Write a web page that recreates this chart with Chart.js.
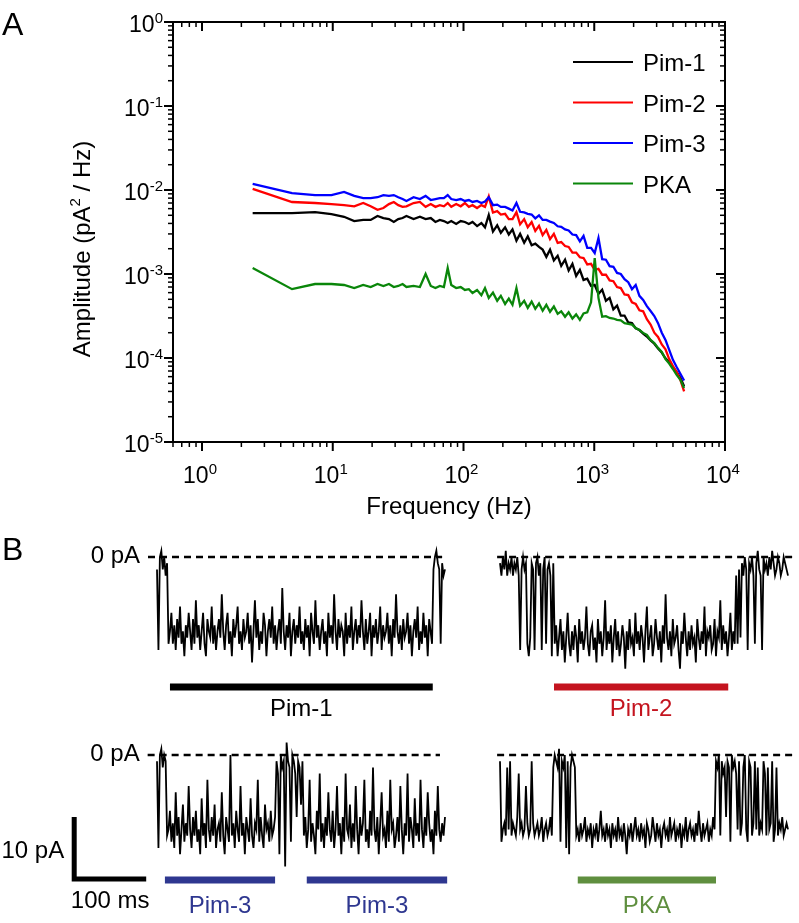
<!DOCTYPE html>
<html>
<head>
<meta charset="utf-8">
<script src="https://cdn.jsdelivr.net/npm/chart.js@4.4.0/dist/chart.umd.min.js"></script>
<style>
  body { margin: 0; background: #fff; }
  #fig { position: relative; width: 799px; height: 923px; }
  canvas { position: absolute; }
</style>
</head>
<body>
<div id="fig">
  <canvas id="spectra" width="799" height="530" style="left:0;top:0"></canvas>
  <canvas id="tr1" width="455" height="200" style="left:0;top:530px"></canvas>
  <canvas id="tr2" width="344" height="200" style="left:455px;top:530px"></canvas>
  <canvas id="tr3" width="455" height="193" style="left:0;top:730px"></canvas>
  <canvas id="tr4" width="344" height="193" style="left:455px;top:730px"></canvas>
</div>
<script>
const FONT = '"Liberation Sans", Arial, sans-serif';

// ---- panel A: power spectra (Hz, pA^2/Hz) ----
const freqHz = [2.44, 4.88, 7.32, 9.77, 12.2, 14.6, 17.1, 19.5, 22.0, 24.4,
  26.9, 29.3, 31.7, 34.2, 36.6, 41.5, 46.4, 51.3, 56.2, 61.0,
  65.9, 70.8, 75.7, 80.6, 87.9, 95.2, 102.5, 109.9, 117.2, 127,
  137, 146, 156, 168, 181, 193, 208, 222, 237, 254,
  271, 291, 310, 332, 354, 378, 403, 430, 459, 491,
  525, 559, 598, 637, 681, 727, 776, 828, 884, 945,
  1008, 1077, 1150, 1228, 1311, 1400, 1494, 1596, 1704, 1820,
  1943, 2075, 2215, 2366, 2526, 2697, 2880, 3075, 3284, 3506,
  3743, 3997, 4268, 4557, 4866];

const pim1Amp = [5.3e-3, 5.3e-3, 5.45e-3, 5.15e-3, 4.8e-3, 4.27e-3, 4.4e-3, 4.4e-3, 4.9e-3, 4.64e-3,
  4.5e-3, 4.16e-3, 4.5e-3, 4.64e-3, 4.9e-3, 4.5e-3, 4.8e-3, 4.5e-3, 4.64e-3, 4.16e-3,
  4.4e-3, 4.27e-3, 4.05e-3, 4.27e-3, 3.94e-3, 4.27e-3, 4.16e-3, 3.94e-3, 4.16e-3, 3.72e-3,
  4.05e-3, 3.6e-3, 5.04e-3, 3.2e-3, 3.8e-3, 3.1e-3, 3.6e-3, 2.95e-3, 3.4e-3, 2.5e-3,
  3.0e-3, 2.35e-3, 2.8e-3, 2.2e-3, 2.3e-3, 2.1e-3, 1.95e-3, 1.6e-3, 1.95e-3, 1.45e-3,
  1.65e-3, 1.25e-3, 1.48e-3, 1.1e-3, 1.32e-3, 9.5e-4, 1.12e-3, 8.5e-4, 8.8e-4, 7.2e-4,
  7.4e-4, 5.8e-4, 6.5e-4, 4.8e-4, 5.2e-4, 3.8e-4, 4.2e-4, 3.2e-4, 3.2e-4, 2.65e-4,
  2.6e-4, 2.25e-4, 2.15e-4, 1.95e-4, 1.8e-4, 1.62e-4, 1.48e-4, 1.3e-4, 1.16e-4, 9.9e-5,
  8.9e-5, 7.8e-5, 6.8e-5, 5.8e-5, 4.6e-5];

const pim2Amp = [1.03e-2, 7.2e-3, 7.0e-3, 6.8e-3, 6.6e-3, 6.4e-3, 7.0e-3, 6.4e-3, 5.8e-3, 6.1e-3,
  6.8e-3, 7.2e-3, 6.6e-3, 6.3e-3, 6.4e-3, 7.0e-3, 7.2e-3, 6.3e-3, 6.8e-3, 6.3e-3,
  6.6e-3, 6.4e-3, 7.0e-3, 6.3e-3, 6.8e-3, 6.4e-3, 7.0e-3, 6.3e-3, 6.6e-3, 6.1e-3,
  6.6e-3, 6.3e-3, 8.4e-3, 5.4e-3, 5.6e-3, 5.1e-3, 5.2e-3, 4.5e-3, 4.5e-3, 5.45e-3,
  3.9e-3, 4.5e-3, 3.6e-3, 4.15e-3, 3.25e-3, 3.75e-3, 2.9e-3, 3.35e-3, 2.6e-3, 3.0e-3,
  2.35e-3, 2.4e-3, 2.15e-3, 2.1e-3, 1.8e-3, 1.8e-3, 1.58e-3, 1.55e-3, 1.3e-3, 1.32e-3,
  1.12e-3, 1.15e-3, 9.8e-4, 9.8e-4, 8.4e-4, 8.2e-4, 7.0e-4, 6.8e-4, 5.7e-4, 5.6e-4,
  4.6e-4, 4.4e-4, 3.7e-4, 3.6e-4, 2.9e-4, 2.5e-4, 2.0e-4, 1.78e-4, 1.45e-4, 1.27e-4,
  9.7e-5, 8.0e-5, 6.8e-5, 5.5e-5, 4.0e-5];

const pim3Amp = [1.18e-2, 9.2e-3, 8.7e-3, 8.7e-3, 9.5e-3, 8.5e-3, 8.0e-3, 8.0e-3, 8.2e-3, 8.7e-3,
  8.5e-3, 8.7e-3, 8.2e-3, 7.8e-3, 7.4e-3, 8.2e-3, 7.8e-3, 8.5e-3, 7.6e-3, 7.8e-3,
  8.0e-3, 8.0e-3, 8.7e-3, 7.8e-3, 7.6e-3, 7.8e-3, 7.4e-3, 7.6e-3, 7.2e-3, 7.4e-3,
  7.0e-3, 7.3e-3, 8.2e-3, 6.6e-3, 6.7e-3, 6.3e-3, 6.3e-3, 6.0e-3, 5.7e-3, 7.0e-3,
  5.5e-3, 5.4e-3, 5.2e-3, 5.1e-3, 4.6e-3, 5.0e-3, 4.4e-3, 4.4e-3, 4.2e-3, 4.05e-3,
  3.7e-3, 3.65e-3, 3.4e-3, 3.3e-3, 2.95e-3, 2.9e-3, 2.45e-3, 2.85e-3, 2.05e-3, 2.05e-3,
  1.78e-3, 2.68e-3, 1.5e-3, 1.48e-3, 1.24e-3, 1.22e-3, 1.03e-3, 1.0e-3, 8.7e-4, 8.0e-4,
  6.6e-4, 7.4e-4, 5.5e-4, 4.9e-4, 4.15e-4, 3.63e-4, 3.16e-4, 2.6e-4, 2.0e-4, 1.64e-4,
  1.25e-4, 9.5e-5, 7.8e-5, 6.5e-5, 5.4e-5];

const pkaAmp = [1.18e-3, 6.6e-4, 7.6e-4, 7.6e-4, 7.4e-4, 6.8e-4, 7.4e-4, 7.0e-4, 7.6e-4, 7.2e-4,
  7.6e-4, 7.0e-4, 7.2e-4, 7.6e-4, 7.0e-4, 7.2e-4, 7.0e-4, 1.0e-3, 7.2e-4, 6.8e-4,
  7.2e-4, 7.0e-4, 1.18e-3, 7.4e-4, 6.8e-4, 7.0e-4, 6.45e-4, 6.6e-4, 5.94e-4, 6.45e-4,
  5.6e-4, 6.8e-4, 5.2e-4, 6.0e-4, 4.8e-4, 5.5e-4, 4.4e-4, 5.1e-4, 4.3e-4, 6.8e-4,
  4.2e-4, 4.8e-4, 3.95e-4, 4.7e-4, 3.85e-4, 4.45e-4, 3.65e-4, 4.3e-4, 3.55e-4, 4.1e-4,
  3.35e-4, 3.6e-4, 3.1e-4, 3.5e-4, 2.95e-4, 3.3e-4, 2.85e-4, 3.4e-4, 3.5e-4, 4.6e-4,
  1.55e-3, 5.2e-4, 3.1e-4, 3.15e-4, 3.0e-4, 2.95e-4, 2.85e-4, 2.8e-4, 2.6e-4, 2.55e-4,
  2.5e-4, 2.28e-4, 2.16e-4, 1.99e-4, 1.88e-4, 1.64e-4, 1.51e-4, 1.32e-4, 1.18e-4, 9.7e-5,
  8.6e-5, 7.4e-5, 6.3e-5, 5.5e-5, 4.4e-5];

const seriesNames = ['Pim-1', 'Pim-2', 'Pim-3', 'PKA'];
const xDecades = [0, 1, 2, 3, 4];
const yDecades = [-5, -4, -3, -2, -1, 0];

// ---- panel B: current traces, pA, one sample every 2 ms ----
const SAMPLE_MS = 2;
const pim1Trace = [-2, -15, 0, 1, -2, 0, -3, -1, -14,
  -12, -9, -14, -11, -15, -10, -13, -8, -14, -12,
  -16, -11, -13, -9, -12, -15, -10, -14, -7, -13,
  -11, -15, -12, -9, -14, -16, -10, -12, -13, -8,
  -14, -11, -15, -12, -10, -13, -6, -12, -15, -11,
  -9, -14, -12, -16, -10, -13, -11, -8, -14, -12,
  -15, -10, -13, -12, -9, -14, -11, -17, -12, -7,
  -13, -10, -15, -12, -14, -9, -11, -16, -12, -10,
  -13, -8, -14, -11, -15, -12, -10, -14, -5, -12,
  -15, -11, -13, -9, -16, -12, -10, -14, -11, -13,
  -8, -14, -12, -15, -10, -13, -11, -16, -9, -12,
  -14, -7, -13, -11, -15, -12, -10, -14, -12, -16,
  -9, -13, -11, -14, -6, -12, -15, -10, -13, -11,
  -12, -16, -9, -14, -11, -13, -8, -15, -12, -10,
  -14, -11, -13, -7, -12, -15, -10, -14, -12, -9,
  -16, -11, -13, -10, -14, -12, -8, -15, -11, -13,
  -12, -9, -14, -11, -16, -10, -13, -6, -12, -14,
  -11, -15, -10, -13, -12, -9, -14, -11, -16, -12,
  -10, -13, -8, -15, -12, -14, -9, -13, -11, -16, -10, -12, -14,
  -2, 0, 1, -1, -2, -14, -1, -3, -2];
const pim2Trace = [-1, -3, 0, -2, 1, -3, -1, -2, 0, -3,
  -1, -2, 0, -3, -15, -2, 0, -2, -1, -14,
  -16, -13, -1, -2, -15, -1, 0, -3, -1, -15,
  -2, 0, -14, -2, -1, -3, -16, -1,
  -14, -11, -16, -13, -10, -15, -12, -17, -13, -9,
  -14, -16, -12, -15, -11, -13, -17, -10, -14, -12,
  -15, -13, -8, -14, -16, -12, -11, -15, -13, -17,
  -10, -14, -12, -16, -13, -7, -15, -12, -14, -11,
  -17, -13, -10, -15, -12, -16, -14, -11, -13, -18,
  -12, -15, -10, -14, -13, -16, -9, -14, -12, -15,
  -11, -13, -17, -12, -8, -15, -13, -11, -16, -14,
  -10, -13, -15, -12, -17, -11, -14, -6, -13, -15,
  -12, -16, -10, -14, -13, -11, -15, -18, -12, -14,
  -9, -13, -16, -12, -15, -11, -14, -13, -17, -10,
  -13, -15, -12, -14, -8, -16, -12, -13, -11, -15,
  -14, -10, -16, -12, -13, -7, -15, -11, -14, -12,
  -16, -13, -9, -15, -12, -14,
  -3, -14, -2, -13, -1, -3, 0, -2, -15, -1,
  -2, 0, -3, -14, -1, 1, -2, -3, -15, 0,
  -2, -1, -3, 0, -2, 1, -1, -3, -2, 0,
  -1, -3, -2, 0, -1, -2, -3];
const pim3Trace = [-1, -15, 0, 1, -2, 0, -1, -13,
  -12, -9, -14, -11, -15, -6, -13, -10, -16, -12,
  -8, -14, -11, -13, -5, -12, -15, -10, -13, -9,
  -14, -12, -16, -7, -13, -11, -15, -4, -12, -14,
  -10, -13, -8, -15, -12, -11, -14, -6, -13, -16,
  -10, -12, -14, 0, -13, -11, -15, -9, -12, -14,
  -5, -13, -11, -16, -10, -12, -14, -7, -13, -15,
  -11, -12, -4, -14, -10, -13, -15, -8, -12, -11,
  -14, -9, -13, -12, -10,
  -1, -3, -16, 0, -2, -1, -18, 2, -1, -2, -14, 0, -1, -3, -10, -1, -2, -8, -1,
  -13, -10, -15, -12, -4, -14, -11, -13, -16, -9,
  -12, -3, -14, -11, -15, -10, -13, -6, -12, -14,
  -9, -15, -12, -5, -13, -11, -16, -10, -14, -3,
  -12, -13, -8, -15, -11, -14, -5, -12, -16, -10,
  -13, -11, -4, -14, -12, -15, -9, -13, -2, -12,
  -14, -10, -16, -11, -6, -13, -12, -15, -9, -14,
  -4, -12, -11, -15, -13, -10, -14, -5, -12, -16,
  -11, -13, -3, -14, -10, -12, -15, -7, -13, -11,
  -14, -4, -12, -15, -10, -13, -6, -11, -14, -12,
  -16, -9, -13, -5, -12, -14, -11, -13, -10];
const pkaTrace = [-1, -14, -12, -11, -13, -2, -12, -1, -13, -11,
  -12, -13, -10, -3, -12, -11, -13, -12, -5, -11,
  -13, -12, -1, -11, -13, -12,
  -11, -13, -12, -10, -14, -12, -11, -13, -12, -10, -13, -2,
  0, -1, -2, 1, -14, -1, -2, 0, -15, -1, -16, -2, 0, -1, -2, -13,
  -12, -14, -11, -13, -12, -10, -14, -12, -13, -11,
  -15, -12, -13, -11, -14, -12, -9, -13, -12, -14,
  -11, -13, -12, -15, -11, -13, -12, -14, -10, -13,
  -12, -14, -11, -13, -16, -12, -13, -11, -14, -12,
  -10, -13, -12, -14, -11, -13, -12, -15, -11, -12,
  -14, -13, -10, -12, -14, -11, -13, -12, -15, -12,
  -11, -13, -12, -14, -10, -13, -12, -11, -14, -12,
  -13, -11, -15, -12, -13, -10, -14, -12, -11, -13,
  -12, -14, -11, -13, -9, -12, -14, -11, -13, -12,
  -11, -14, -12, -13, -10, -12,
  -1, -2, 0, -13, -1, -3, -2, -10, -1, -2, -14, 0, -2, -1, -3,
  -12, -1, -13, -11, -2, 0, -12, -14, -1, -2,
  -13, -11, -1, -12, -2, -13, -11, -12, -1, -3,
  -13, -2, -12, -11, -1, -14, -12, -2, -13, -11,
  -12, -10, -13, -12, -11, -12];

// drug application periods, ms from trace start
const pim1Bars = [[18, 383]];
const pim2Bars = [[75, 317]];
const pim3Bars = [[11, 164], [208, 403]];
const pkaBars = [[108, 300]];

const colors = { 'Pim-1': '#000000', 'Pim-2': '#ff0000', 'Pim-3': '#0000ff', 'PKA': '#0a860a' };
const barColors = { 'Pim-1': '#000000', 'Pim-2': '#c4141f', 'Pim-3': '#2e3790', 'PKA': '#5f8f3f' };

function line(ctx, x1, y1, x2, y2) {
  ctx.beginPath();
  ctx.moveTo(x1, y1);
  ctx.lineTo(x2, y2);
  ctx.stroke();
}

function drawPow(ctx, exp, x, y, align) {
  ctx.font = '23px ' + FONT;
  const wb = ctx.measureText('10').width;
  ctx.font = '15px ' + FONT;
  const we = ctx.measureText(exp).width;
  const left = align === 'right' ? x - wb - we : x - (wb + we) / 2;
  ctx.textAlign = 'left';
  ctx.textBaseline = 'alphabetic';
  ctx.font = '23px ' + FONT;
  ctx.fillText('10', left, y);
  ctx.font = '15px ' + FONT;
  ctx.fillText(exp, left + wb, y - 9);
}

const spectraAxes = {
  id: 'spectraAxes',
  afterDraw(chart) {
    const { ctx, chartArea: a, scales: { x, y } } = chart;
    ctx.save();
    ctx.strokeStyle = '#000';
    ctx.fillStyle = '#000';
    ctx.lineWidth = 2;
    ctx.strokeRect(a.left, a.top, a.right - a.left, a.bottom - a.top);

    // x ticks: out at bottom, in at top
    for (let e = -1; e <= 4; e++) {
      for (let m = 1; m <= 9; m++) {
        const v = m * Math.pow(10, e);
        if (v < x.min * 0.999 || v > x.max * 1.001) continue;
        const px = x.getPixelForValue(v);
        const len = m === 1 ? 9 : 5;
        ctx.lineWidth = m === 1 ? 2 : 1.5;
        line(ctx, px, a.bottom, px, a.bottom + len);
        line(ctx, px, a.top, px, a.top + len);
      }
    }
    // y ticks: out at left, in at right
    for (let e = -5; e <= 0; e++) {
      for (let m = 1; m <= 9; m++) {
        const v = m * Math.pow(10, e);
        if (v < y.min * 0.999 || v > y.max * 1.001) continue;
        const py = y.getPixelForValue(v);
        const len = m === 1 ? 9 : 5;
        ctx.lineWidth = m === 1 ? 2 : 1.5;
        line(ctx, a.left - len, py, a.left, py);
        line(ctx, a.right - len, py, a.right, py);
      }
    }

    xDecades.forEach(e => drawPow(ctx, String(e), x.getPixelForValue(Math.pow(10, e)) - 2, a.bottom + 41, 'center'));
    yDecades.forEach(e => drawPow(ctx, String(e), a.left - 10, y.getPixelForValue(Math.pow(10, e)) + 10, 'right'));

    // axis titles
    ctx.font = '24px ' + FONT;
    ctx.textAlign = 'center';
    ctx.fillText('Frequency (Hz)', (a.left + a.right) / 2, 514);

    ctx.save();
    ctx.translate(90, 249);
    ctx.rotate(-Math.PI / 2);
    ctx.textAlign = 'left';
    const p1 = 'Amplitude (pA', p3 = ' / Hz)';
    ctx.font = '24px ' + FONT;
    const w1 = ctx.measureText(p1).width, w3 = ctx.measureText(p3).width;
    ctx.font = '15px ' + FONT;
    const w2 = ctx.measureText('2').width;
    const sx = -(w1 + w2 + w3) / 2;
    ctx.font = '24px ' + FONT;
    ctx.fillText(p1, sx, 0);
    ctx.fillText(p3, sx + w1 + w2, 0);
    ctx.font = '15px ' + FONT;
    ctx.fillText('2', sx + w1, -10);
    ctx.restore();

    // legend
    ctx.font = '24px ' + FONT;
    ctx.textAlign = 'left';
    seriesNames.forEach((name, i) => {
      const ly = 62 + i * 40.5;
      ctx.strokeStyle = colors[name];
      ctx.lineWidth = 2.2;
      line(ctx, 573, ly, 633, ly);
      ctx.fillStyle = '#000';
      ctx.fillText(name, 643, ly + 9);
    });

    ctx.font = '32px ' + FONT;
    ctx.fillText('A', 2, 35);
    ctx.restore();
  }
};

const ampSeries = [pim1Amp, pim2Amp, pim3Amp, pkaAmp];
const drawOrder = [3, 2, 1, 0];

new Chart(document.getElementById('spectra'), {
  type: 'line',
  data: {
    datasets: seriesNames.map((name, i) => ({
      label: name,
      data: freqHz.map((f, j) => ({ x: f, y: ampSeries[i][j] })),
      borderColor: colors[name],
      borderWidth: 2.3,
      pointRadius: 0,
      tension: 0,
      fill: false,
      order: drawOrder[i]
    }))
  },
  options: {
    responsive: false,
    animation: false,
    events: [],
    layout: { padding: { left: 173, top: 22, right: 74, bottom: 88 } },
    plugins: { legend: { display: false }, tooltip: { enabled: false } },
    scales: {
      x: { type: 'logarithmic', min: 0.6, max: 10000, display: false },
      y: { type: 'logarithmic', min: 1e-5, max: 1, display: false }
    }
  },
  plugins: [spectraAxes]
});

// ---- panel B ----
const PX_PER_MS = 0.72;
const PX_PER_PA = 6.2;

function makeDecor(lay) {
  return {
    id: 'traceDecor',
    beforeDatasetsDraw(chart) {
      const { ctx, scales: { x, y } } = chart;
      const y0 = y.getPixelForValue(0);
      ctx.save();
      ctx.strokeStyle = '#000';
      ctx.lineWidth = 2.5;
      ctx.setLineDash([7, 5]);
      line(ctx, x.getPixelForValue(lay.dash[0]), y0, x.getPixelForValue(lay.dash[1]), y0);
      ctx.restore();
    },
    afterDraw(chart) {
      const { ctx, scales: { x, y } } = chart;
      ctx.save();
      ctx.font = '24px ' + FONT;
      ctx.textBaseline = 'alphabetic';
      lay.bars.forEach(([t1, t2]) => {
        const x1 = x.getPixelForValue(t1), x2 = x.getPixelForValue(t2);
        ctx.strokeStyle = barColors[lay.name];
        ctx.fillStyle = barColors[lay.name];
        ctx.lineWidth = 7;
        line(ctx, x1, lay.barY, x2, lay.barY);
        ctx.textAlign = 'center';
        ctx.fillText(lay.name, (x1 + x2) / 2, lay.barY + lay.labelGap);
      });
      ctx.fillStyle = '#000';
      if (lay.zeroLabel) {
        ctx.textAlign = 'right';
        ctx.fillText('0 pA', x.getPixelForValue(lay.dash[0]) - 8, y.getPixelForValue(0) + 6);
      }
      if (lay.panel) {
        ctx.textAlign = 'left';
        ctx.font = '32px ' + FONT;
        ctx.fillText(lay.panel, 2, 30);
        ctx.font = '24px ' + FONT;
      }
      if (lay.scaleBar) {
        const sb = lay.scaleBar;
        const cx = x.getPixelForValue(sb.t), cy = y.getPixelForValue(sb.pA);
        const topY = y.getPixelForValue(sb.pA + sb.dI);
        const rightX = x.getPixelForValue(sb.t + sb.dt);
        ctx.strokeStyle = '#000';
        ctx.lineWidth = 5;
        ctx.lineJoin = 'miter';
        ctx.beginPath();
        ctx.moveTo(cx, topY);
        ctx.lineTo(cx, cy);
        ctx.lineTo(rightX, cy);
        ctx.stroke();
        ctx.textAlign = 'right';
        ctx.fillText(sb.dI + ' pA', cx - 10, (topY + cy) / 2 + 10);
        ctx.textAlign = 'center';
        ctx.fillText(sb.dt + ' ms', (cx + rightX) / 2, cy + 29);
      }
      ctx.restore();
    }
  };
}

function makeTrace(id, values, lay) {
  const canvas = document.getElementById(id);
  const w = canvas.width, h = canvas.height;
  new Chart(canvas, {
    type: 'line',
    data: {
      datasets: [{
        data: values.map((v, i) => ({ x: i * SAMPLE_MS, y: v })),
        borderColor: '#000',
        borderWidth: 1.8,
        pointRadius: 0,
        tension: 0,
        fill: false,
        clip: false
      }]
    },
    options: {
      responsive: false,
      animation: false,
      events: [],
      layout: { padding: 0 },
      plugins: { legend: { display: false }, tooltip: { enabled: false } },
      scales: {
        x: { type: 'linear', display: false, min: -lay.t0px / PX_PER_MS, max: (w - lay.t0px) / PX_PER_MS },
        y: { type: 'linear', display: false, min: -(h - lay.zeroPx) / PX_PER_PA, max: lay.zeroPx / PX_PER_PA }
      }
    },
    plugins: [makeDecor(lay)]
  });
}

makeTrace('tr1', pim1Trace, { name: 'Pim-1', t0px: 157, zeroPx: 27, dash: [-12.5, 396], bars: pim1Bars, barY: 157, labelGap: 29, zeroLabel: true, panel: 'B' });
makeTrace('tr2', pim2Trace, { name: 'Pim-2', t0px: 45, zeroPx: 27, dash: [-4, 412], bars: pim2Bars, barY: 157, labelGap: 29 });
makeTrace('tr3', pim3Trace, { name: 'Pim-3', t0px: 157, zeroPx: 25, dash: [-13, 393], bars: pim3Bars, barY: 150, labelGap: 33, zeroLabel: true,
  scaleBar: { t: -115, pA: -20, dt: 100, dI: 10 } });
makeTrace('tr4', pkaTrace, { name: 'PKA', t0px: 45, zeroPx: 25, dash: [-4, 410], bars: pkaBars, barY: 150, labelGap: 33 });
</script>
</body>
</html>
